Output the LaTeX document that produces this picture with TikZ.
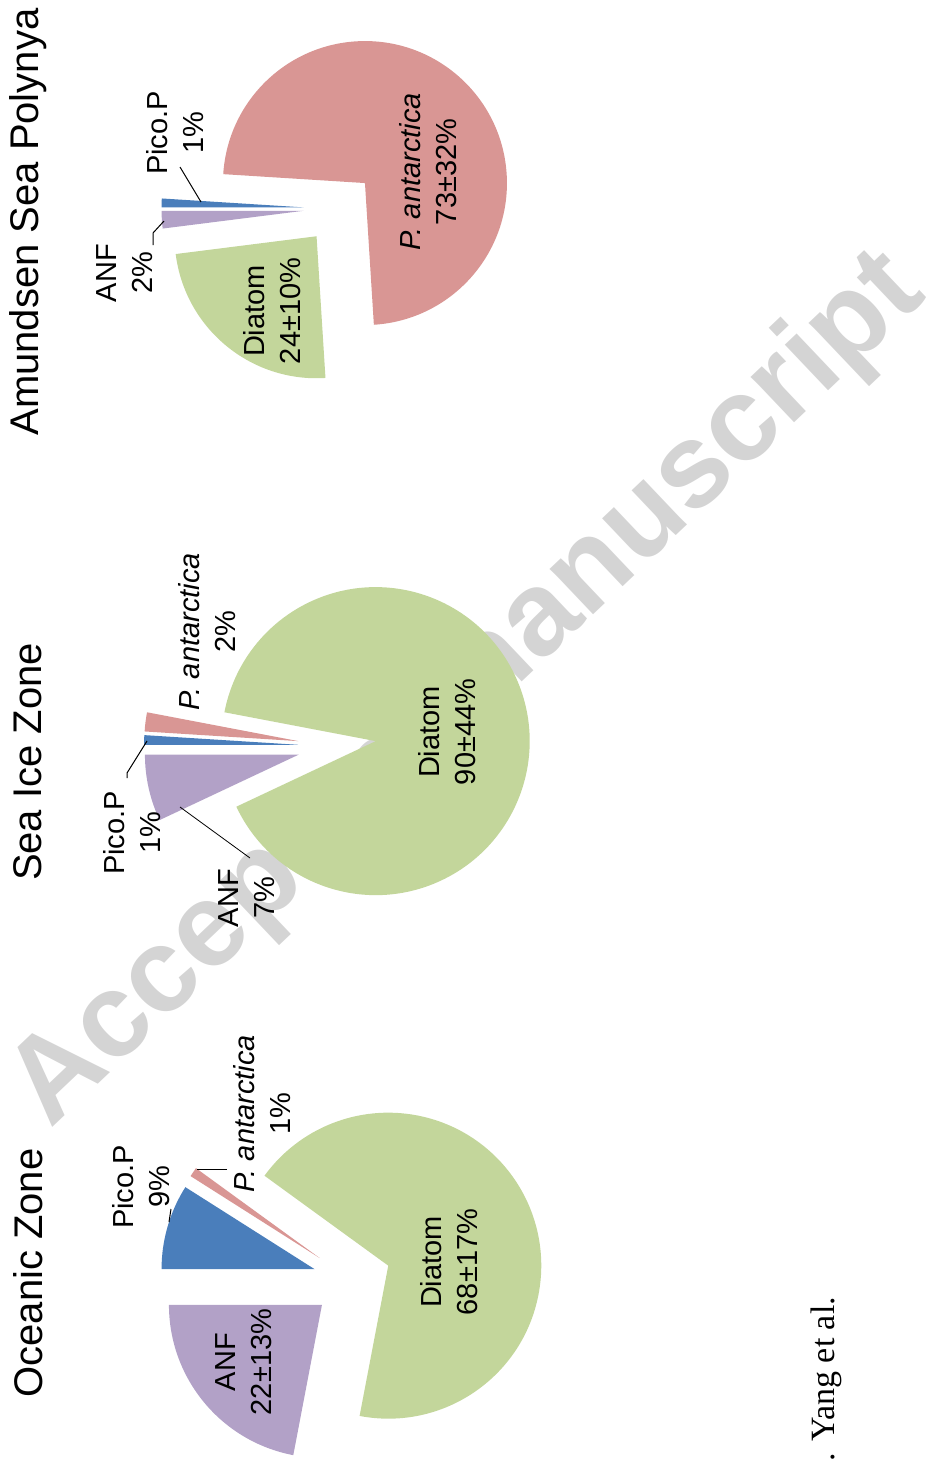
\documentclass[tikz,border=0pt]{standalone}
\usepackage{fontspec}
\setmainfont{Liberation Sans}
\newfontfamily\yangserif{Liberation Serif}
\definecolor{diatomc}{HTML}{C3D69B}
\definecolor{anfc}{HTML}{B2A1C7}
\definecolor{picoc}{HTML}{4A7EBB}
\definecolor{pantc}{HTML}{D99694}
\definecolor{wmc}{HTML}{D4D4D4}
\tikzset{
  lbl/.style={rotate=90, align=center, inner sep=0pt, font=\fontsize{14.5}{18}\selectfont},
  ttl/.style={rotate=90, inner sep=0pt, font=\fontsize{20}{24}\selectfont},
  leader/.style={draw=black, line width=0.5pt},
  wm/.style={text=wmc, inner sep=0pt, font=\fontsize{59.5}{60}\selectfont\bfseries},
}
% #1 cx, #2 cy, #3 radius, #4 start angle, #5 end angle (math, ccw), #6 explode offset, #7 colour
\newcommand{\pieslice}[7]{%
  \pgfmathsetmacro\pmid{(#4+#5)/2}%
  \fill[#7] ([shift={(-\pmid:#6)}]#1,#2) -- ++(-#4:#3) arc[start angle=-#4, end angle=-#5, radius=#3] -- cycle;
}
\begin{document}
\begin{tikzpicture}[x=0.5pt,y=-0.5pt]
\useasboundingbox (0,0) rectangle (943,1464);
% watermark
\node[wm, rotate=43.5, anchor=base west] (wmark) at (50,1130) {Accepted manuscript};

% Oceanic Zone pie
\pieslice{352}{1280}{153}{180}{259.2}{39}{anfc}
\pieslice{352}{1280}{153}{259.2}{504}{39}{diatomc}
\pieslice{352}{1280}{153}{504}{507.6}{39}{pantc}
\pieslice{352}{1280}{153}{507.6}{540}{39}{picoc}

% Sea Ice Zone pie
\pieslice{337}{746}{154}{180}{205.2}{39}{anfc}
\pieslice{337}{746}{154}{205.2}{529.2}{39}{diatomc}
\pieslice{337}{746}{154}{529.2}{536.4}{39}{pantc}
\pieslice{337}{746}{154}{536.4}{540}{39}{picoc}

% Amundsen Sea Polynya pie
\pieslice{339.5}{208.5}{142}{180}{187.2}{36}{anfc}
\pieslice{339.5}{208.5}{142}{187.2}{273.6}{36}{diatomc}
\pieslice{339.5}{208.5}{142}{273.6}{536.4}{36}{pantc}
\pieslice{339.5}{208.5}{142}{536.4}{540}{36}{picoc}

% titles
\node[ttl] (t1) at (28,1273) {Oceanic Zone};
\node[ttl] (t2) at (28,762) {Sea Ice Zone};
\node[ttl] (t3) at (28,222) {Amundsen Sea Polynya};

% Oceanic labels
\node[lbl] (o-dia) at (449,1262) {Diatom\\68±17\%};
\node[lbl] (o-anf) at (244,1362) {ANF\\22±13\%};
\node[lbl] (o-pico) at (141,1187) {Pico.P\\9\%};
\node[lbl] (o-pant) at (262,1114) {\textit{P. antarctica}\\1\%};

% Sea Ice labels
\node[lbl] (s-dia) at (447,732) {Diatom\\90±44\%};
\node[lbl] (s-pant) at (207,632) {\textit{P. antarctica}\\2\%};
\node[lbl] (s-pico) at (132,833) {Pico.P\\1\%};
\node[lbl] (s-anf) at (247,898) {ANF\\7\%};

% Amundsen labels
\node[lbl] (a-pant) at (428,172) {\textit{P. antarctica}\\73±32\%};
\node[lbl] (a-dia) at (272,311) {Diatom\\24±10\%};
\node[lbl] (a-pico) at (175,133) {Pico.P\\1\%};
\node[lbl] (a-anf) at (125,273) {ANF\\2\%};

% leader lines
\coordinate (o-pant-a) at (227,1169);
\coordinate (o-pant-b) at (197,1169);
\draw[leader] (o-pant-a) -- (o-pant-b);
\coordinate (o-pico-a) at (171,1209);
\coordinate (o-pico-b) at (169,1222);
\draw[leader] (o-pico-a) -- (o-pico-b);
\coordinate (s-pico-a) at (147,741);
\coordinate (s-pico-m) at (127,773);
\coordinate (s-pico-b) at (127,778);
\draw[leader] (s-pico-a) -- (s-pico-m) -- (s-pico-b);
\coordinate (s-anf-a) at (180,807);
\coordinate (s-anf-b) at (250,858);
\draw[leader, line width=0.4pt] (s-anf-a) -- (s-anf-b);
\coordinate (a-pico-a) at (180,167);
\coordinate (a-pico-b) at (201,202);
\draw[leader] (a-pico-a) -- (a-pico-b);
\coordinate (a-anf-a) at (164,221);
\coordinate (a-anf-m) at (153,233);
\coordinate (a-anf-b) at (153,245);
\draw[leader] (a-anf-a) -- (a-anf-m) -- (a-anf-b);

% author note
\node[rotate=90, anchor=base west, inner sep=0pt, font=\yangserif\fontsize{17}{20}\selectfont] (author) at (834,1462) {. Yang et al.};
\end{tikzpicture}
\end{document}
